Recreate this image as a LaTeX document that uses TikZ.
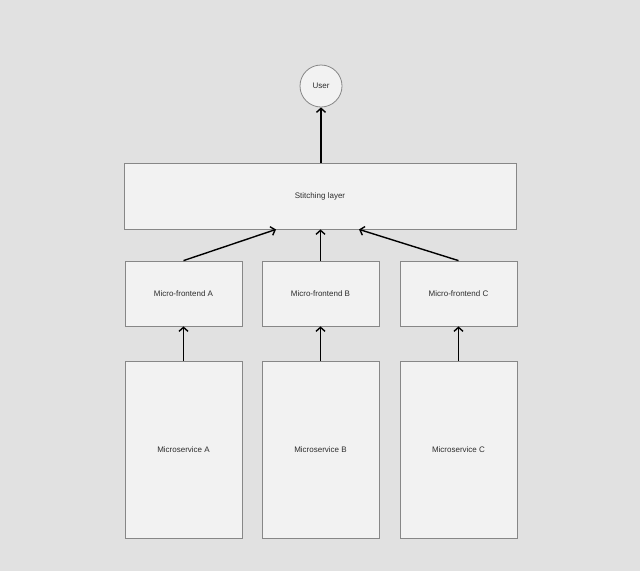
\documentclass[tikz,border=0pt]{standalone}
\usepackage{fontspec}
\setmainfont{Liberation Sans}
\usetikzlibrary{arrows.meta}
\definecolor{bggray}{RGB}{225,225,225}
\definecolor{boxfill}{RGB}{242,242,242}
\definecolor{boxline}{RGB}{135,135,135}
\definecolor{textgray}{RGB}{45,45,45}
\begin{document}
\begin{tikzpicture}[x=1pt,y=-1pt,
  box/.style={draw=boxline,fill=boxfill,line width=0.8pt,text=textgray,
    font=\fontsize{8}{10}\selectfont,inner sep=0pt},
  conn/.style={-{Straight Barb[length=4pt,width=9pt]},line width=1.4pt}]
\fill[bggray] (0,0) rectangle (640,571);
\useasboundingbox (0,0) rectangle (640,571);
\node[box,circle,minimum size=42pt] (user) at (321,86) {User};
\node[box,minimum width=392pt,minimum height=66pt] (stitch) at (320,196) {Stitching layer};
\node[box,minimum width=117pt,minimum height=65pt] (feA) at (183.5,293.5) {Micro-frontend A};
\node[box,minimum width=117pt,minimum height=65pt] (feB) at (320.5,293.5) {Micro-frontend B};
\node[box,minimum width=117pt,minimum height=65pt] (feC) at (458.5,293.5) {Micro-frontend C};
\node[box,minimum width=117pt,minimum height=177pt] (msA) at (183.5,449.5) {Microservice A};
\node[box,minimum width=117pt,minimum height=177pt] (msB) at (320.5,449.5) {Microservice B};
\node[box,minimum width=117pt,minimum height=177pt] (msC) at (458.5,449.5) {Microservice C};
\draw[conn] (msA) -- (feA);
\draw[conn] (msB) -- (feB);
\draw[conn] (msC) -- (feC);
\draw[conn] (feA.north) -- ([xshift=-44pt]stitch.south);
\draw[conn] (feB.north) -- (feB.north |- stitch.south);
\draw[conn] (feC.north) -- ([xshift=39pt]stitch.south);
\draw[conn] (stitch.north -| user) -- (user);
\end{tikzpicture}
\end{document}
